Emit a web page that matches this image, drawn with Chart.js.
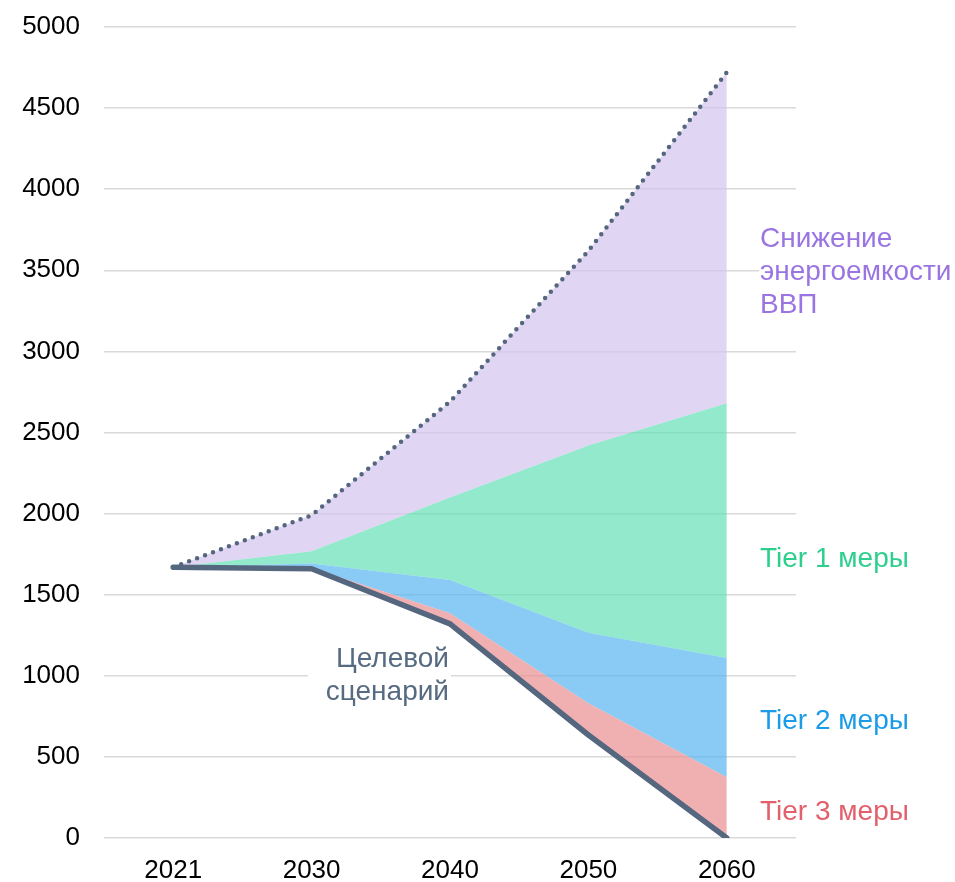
<!DOCTYPE html>
<html lang="ru">
<head>
<meta charset="utf-8">
<title>Целевой сценарий и меры снижения</title>
<script src="https://cdn.jsdelivr.net/npm/chart.js@4.4.1/dist/chart.umd.min.js"></script>
<style>
  html, body { margin: 0; padding: 0; background: #ffffff; }
  canvas { display: block; }
</style>
</head>
<body>
<canvas id="chart" width="955" height="882"></canvas>
<script>
// Years on the horizontal axis
const years = ['2021', '2030', '2040', '2050', '2060'];

// Level of each boundary, bottom to top
const targetScenario = [1670, 1660, 1320, 635, 0];      // Целевой сценарий
const tier3Level     = [1670, 1665, 1386, 831, 375];    // top of Tier 3 band
const tier2Level     = [1670, 1692, 1590, 1265, 1110];  // top of Tier 2 band
const tier1Level     = [1670, 1768, 2100, 2420, 2680];  // top of Tier 1 band
const baselineLevel  = [1670, 1990, 2690, 3620, 4720];  // inertial path (dotted)

// Vertical axis range
const yMin = 0;
const yMax = 5000;
const yStep = 500;

// Band and line names drawn next to the chart
const intensityLabel = ['Снижение', 'энергоемкости', 'ВВП'];
const tier1Label = 'Tier 1 меры';
const tier2Label = 'Tier 2 меры';
const tier3Label = 'Tier 3 меры';
const targetLabel = ['Целевой', 'сценарий'];

const FONT_FAMILY = '"Liberation Sans", Arial, Helvetica, sans-serif';
const LINE_COLOR = '#55677f';

const COLORS = {
  intensityFill: 'rgba(211,196,239,0.7)',
  tier1Fill: 'rgba(101,224,181,0.7)',
  tier2Fill: 'rgba(89,181,241,0.7)',
  tier3Fill: 'rgba(234,142,146,0.7)',
  intensityText: '#9a74e2',
  tier1Text: '#2ccf8e',
  tier2Text: '#1b9be8',
  tier3Text: '#e2606b',
  targetText: '#566a82'
};

// Draws the band names on the right and the target-scenario caption
const bandLabels = {
  id: 'bandLabels',
  afterDatasetsDraw(chart) {
    const { ctx, chartArea, scales } = chart;
    const top = chartArea.top;
    const lx = chartArea.right - 36;
    const lineH = 33;
    ctx.save();
    ctx.font = '28px ' + FONT_FAMILY;
    ctx.textBaseline = 'alphabetic';
    ctx.textAlign = 'left';

    // "Снижение энергоемкости ВВП" with a white backing
    const firstBase = top + 220;
    ctx.fillStyle = '#ffffff';
    ctx.fillRect(lx - 1, firstBase - 24, chart.width - lx + 1, lineH * 2 + 32);
    ctx.fillStyle = COLORS.intensityText;
    intensityLabel.forEach((t, i) => ctx.fillText(t, lx, firstBase + i * lineH));

    ctx.fillStyle = COLORS.tier1Text;
    ctx.fillText(tier1Label, lx, top + 540);
    ctx.fillStyle = COLORS.tier2Text;
    ctx.fillText(tier2Label, lx, top + 702);
    ctx.fillStyle = COLORS.tier3Text;
    ctx.fillText(tier3Label, lx, top + 793);

    // "Целевой сценарий", right-aligned under the 2040 point
    const rx = scales.x.getPixelForValue(2) - 1;
    const tBase = top + 640;
    const w = Math.max(...targetLabel.map(t => ctx.measureText(t).width));
    ctx.fillStyle = '#ffffff';
    ctx.fillRect(rx - w - 18, tBase - 24, w + 20, lineH + 34);
    ctx.fillStyle = COLORS.targetText;
    ctx.textAlign = 'right';
    targetLabel.forEach((t, i) => ctx.fillText(t, rx, tBase + i * lineH));
    ctx.restore();
  }
};

new Chart(document.getElementById('chart'), {
  type: 'line',
  data: {
    labels: years,
    datasets: [
      {
        label: 'Целевой сценарий',
        data: targetScenario,
        borderColor: LINE_COLOR,
        borderWidth: 5.5,
        borderCapStyle: 'round',
        borderJoinStyle: 'round',
        pointRadius: 0,
        fill: false
      },
      {
        label: tier3Label,
        data: tier3Level,
        borderWidth: 0,
        borderColor: 'rgba(0,0,0,0)',
        backgroundColor: COLORS.tier3Fill,
        pointRadius: 0,
        fill: '-1'
      },
      {
        label: tier2Label,
        data: tier2Level,
        borderWidth: 0,
        borderColor: 'rgba(0,0,0,0)',
        backgroundColor: COLORS.tier2Fill,
        pointRadius: 0,
        fill: '-1'
      },
      {
        label: tier1Label,
        data: tier1Level,
        borderWidth: 0,
        borderColor: 'rgba(0,0,0,0)',
        backgroundColor: COLORS.tier1Fill,
        pointRadius: 0,
        fill: '-1'
      },
      {
        label: 'Снижение энергоемкости ВВП',
        data: baselineLevel,
        borderColor: LINE_COLOR,
        borderWidth: 4.5,
        borderDash: [0, 8.5],
        borderCapStyle: 'round',
        backgroundColor: COLORS.intensityFill,
        pointRadius: 0,
        fill: '-1'
      }
    ]
  },
  options: {
    responsive: false,
    animation: false,
    layout: { padding: { top: 27, right: 159, bottom: 0, left: 0 } },
    plugins: {
      legend: { display: false },
      tooltip: { enabled: false }
    },
    elements: { line: { tension: 0 } },
    scales: {
      x: {
        offset: true,
        grid: { display: false, drawTicks: false },
        border: { display: false },
        ticks: {
          color: '#000000',
          font: { family: FONT_FAMILY, size: 26 },
          padding: 17,
          maxRotation: 0
        },
        afterFit(scale) { scale.height = 44; }
      },
      y: {
        min: yMin,
        max: yMax,
        grid: { color: '#d9d9d9', lineWidth: 1.5, drawTicks: false },
        border: { display: false },
        ticks: {
          stepSize: yStep,
          color: '#000000',
          font: { family: FONT_FAMILY, size: 26 },
          padding: 24,
          callback: (v) => String(v)
        },
        afterFit(scale) {
          scale.width = 104;
          scale.paddingTop = 0;
          scale.paddingBottom = 0;
        }
      }
    }
  },
  plugins: [bandLabels]
});
</script>
</body>
</html>
